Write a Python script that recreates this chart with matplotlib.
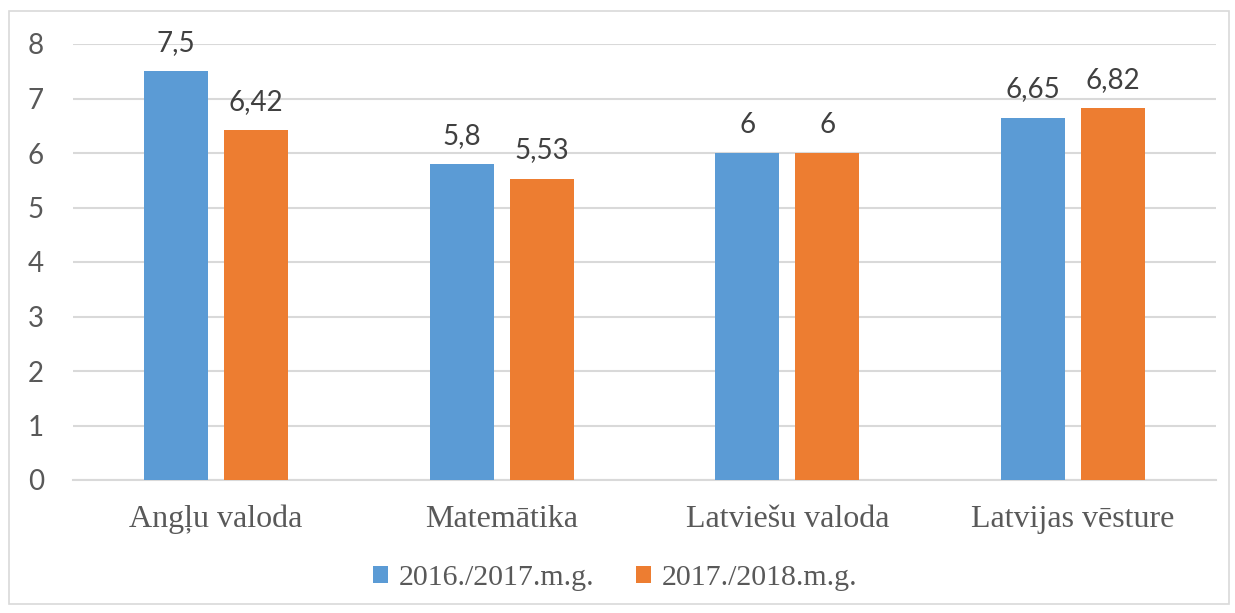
import numpy as np
import matplotlib.pyplot as plt
from matplotlib.patches import Rectangle

# ====== Data ======
categories = ["Angļu valoda", "Matemātika", "Latviešu valoda", "Latvijas vēsture"]
series_names = ["2016./2017.m.g.", "2017./2018.m.g."]
values_2016 = [7.5, 5.8, 6, 6.65]
values_2017 = [6.42, 5.53, 6, 6.82]
value_labels_2016 = ["7,5", "5,8", "6", "6,65"]
value_labels_2017 = ["6,42", "5,53", "6", "6,82"]
# ==================

BLUE = "#5B9BD5"
ORANGE = "#ED7D31"
GRID = "#D9D9D9"

fig = plt.figure(figsize=(12.35, 6.13), dpi=100)
ax = fig.add_axes([73 / 1235, 133 / 613, (1216 - 73) / 1235, (480 - 44) / 613])

x = np.arange(len(categories))
width = 0.224
offset = 0.14

b1 = ax.bar(x - offset, values_2016, width, color=BLUE, label=series_names[0], zorder=3)
b2 = ax.bar(x + offset, values_2017, width, color=ORANGE, label=series_names[1], zorder=3)

# value labels above bars
for bars, labels in ((b1, value_labels_2016), (b2, value_labels_2017)):
    for rect, lab in zip(bars, labels):
        ax.annotate(lab, (rect.get_x() + rect.get_width() / 2, rect.get_height()),
                    xytext=(0, 11), textcoords="offset points", ha="center", va="bottom",
                    fontsize=20, family="Lato", color="#404040")

ax.set_xlim(-0.5, len(categories) - 0.5)
ax.set_ylim(0, 8)
ax.set_yticks(range(0, 9))
ax.yaxis.grid(True, color=GRID, linewidth=1.5, zorder=0)
ax.set_axisbelow(True)
for side in ("top", "right", "left"):
    ax.spines[side].set_visible(False)
ax.spines["bottom"].set_color(GRID)
ax.spines["bottom"].set_linewidth(1.5)

ax.set_xticks(x)
ax.set_xticklabels(categories, family="Liberation Serif", fontsize=23, color="#595959")
ax.tick_params(axis="x", length=0, pad=18)
ax.tick_params(axis="y", length=0, pad=21, labelsize=20, labelcolor="#595959")
for t in ax.get_yticklabels():
    t.set_family("Lato")

leg = fig.legend(loc="center", bbox_to_anchor=(0.498, 0.057), ncol=2, frameon=False,
                 prop={"family": "Liberation Serif", "size": 21.5},
                 handlelength=0.5, handleheight=0.5, handletextpad=0.35, columnspacing=1.4)
for t in leg.get_texts():
    t.set_color("#595959")

# chart border
fig.patches.append(Rectangle((9 / 1235, 9 / 613), 1220 / 1235, 593 / 613,
                             transform=fig.transFigure, fill=False,
                             edgecolor=GRID, linewidth=1.2))

fig.savefig("out.png", dpi=100)
